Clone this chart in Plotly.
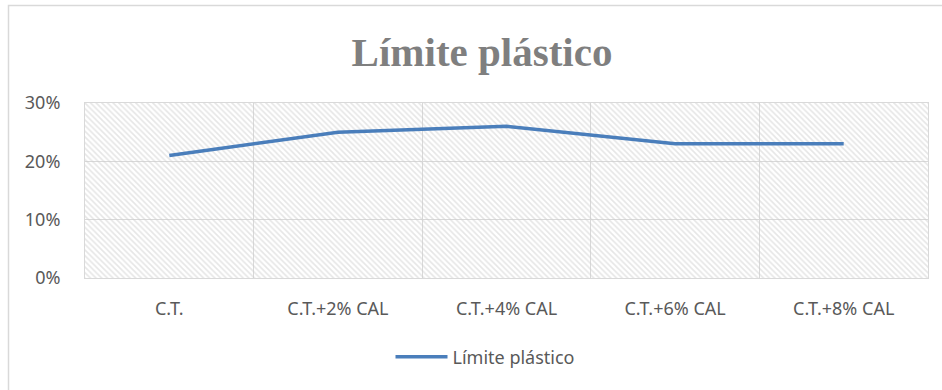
import plotly.graph_objects as go

# Plastic limit for each soil mix
categories = ["C.T.", "C.T.+2% CAL", "C.T.+4% CAL", "C.T.+6% CAL", "C.T.+8% CAL"]
plastic_limit = [0.21, 0.25, 0.26, 0.23, 0.23]
y_ticks = [0, 0.1, 0.2, 0.3]
series_name = "Límite plástico"
chart_title = "Límite plástico"

W, H = 942, 390
px_x = lambda p: p / W
px_y = lambda p: 1 - p / H

fig = go.Figure()

# Hatched plot-area background: one bar spanning every category
fig.add_trace(go.Bar(
    x=[categories[len(categories) // 2]], y=[y_ticks[-1]], width=[len(categories)],
    marker=dict(
        color="rgba(0,0,0,0)",
        line=dict(width=0),
        pattern=dict(shape="\\", fgcolor="#cdcdcd", bgcolor="rgba(0,0,0,0)",
                     size=4, solidity=0.4, fillmode="overlay"),
    ),
    showlegend=False, hoverinfo="skip",
))

fig.add_trace(go.Scatter(
    x=categories, y=plastic_limit, mode="lines", name=series_name,
    line=dict(color="#4a7ebb", width=3.5),
))

fig.update_layout(
    width=W, height=H,
    margin=dict(l=0, r=0, t=0, b=0, autoexpand=False),
    paper_bgcolor="white", plot_bgcolor="white",
    font=dict(family="'Noto Sans', sans-serif", size=18, color="#595959"),
    title=dict(text=f"<b>{chart_title}</b>", x=px_x(482), xanchor="center",
               y=px_y(52), yanchor="middle",
               font=dict(family="'Liberation Serif', serif", size=41, color="#7f7f7f")),
    showlegend=True,
    legend=dict(orientation="h", x=px_x(485), xanchor="center", y=px_y(357), yanchor="middle",
                font=dict(size=18, color="#595959"), itemwidth=52),
    bargap=0,
    shapes=[dict(type="rect", xref="paper", yref="paper",
                 x0=px_x(8.5), x1=1.1, y0=-0.1, y1=px_y(5.5),
                 line=dict(color="#d9d9d9", width=1.5), fillcolor="rgba(0,0,0,0)",
                 layer="below")],
)

fig.update_xaxes(
    domain=[px_x(85), px_x(928)], type="category", automargin=False,
    categoryorder="array", categoryarray=categories,
    range=[-0.5, len(categories) - 0.5],
    tickson="boundaries", showgrid=True, gridcolor="#d9d9d9", gridwidth=1,
    showline=True, linecolor="#d9d9d9", linewidth=1, mirror=True,
    ticks="", ticklabelstandoff=14, tickfont=dict(size=18, color="#595959"),
)
fig.update_yaxes(
    domain=[px_y(278), px_y(103)], range=[0, 0.3], tickvals=y_ticks, tickformat=".0%",
    automargin=False,
    showgrid=True, gridcolor="#d9d9d9", gridwidth=1, zeroline=False,
    showline=True, linecolor="#d9d9d9", linewidth=1, mirror=True,
    ticks="", ticklabelstandoff=20, tickfont=dict(size=18, color="#595959"),
)

fig.write_html("out.html")
